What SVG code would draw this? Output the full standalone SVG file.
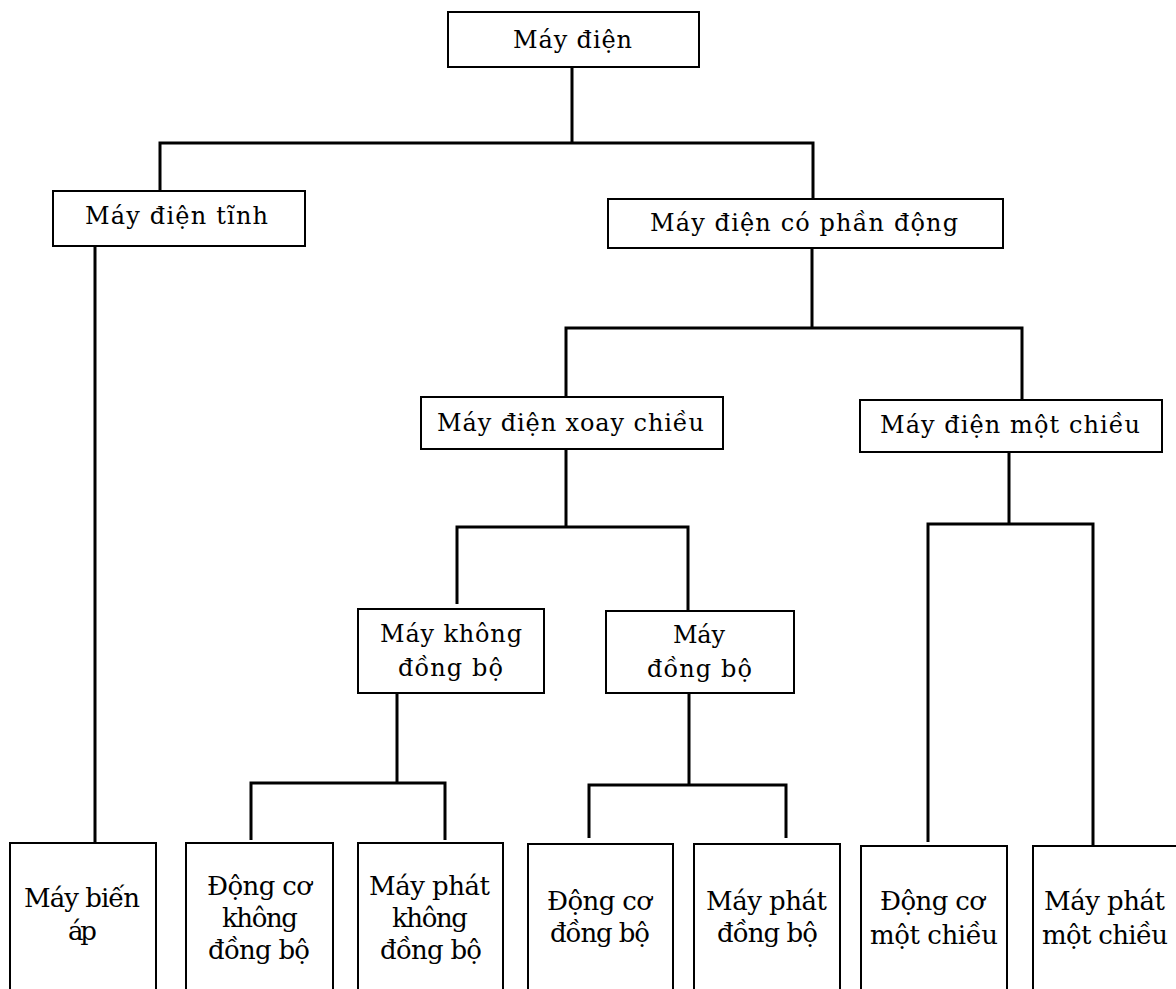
<svg xmlns="http://www.w3.org/2000/svg" width="1176" height="989" viewBox="0 0 1176 989">
  <style>
    .box { fill: #ffffff; stroke: #000000; stroke-width: 2; }
    .lnk { fill: none; stroke: #000000; stroke-width: 3; stroke-linecap: butt; stroke-linejoin: miter; }
    .t { font-family: "DejaVu Serif", "Liberation Serif", serif; font-size: 24px; fill: #000000; }
    .s { font-family: "DejaVu Serif", "Liberation Serif", serif; font-size: 26px; fill: #000000; }
  </style>
  <rect width="1176" height="989" fill="#ffffff"/>

  <!-- connectors -->
  <g id="connectors">
    <path class="lnk" d="M572,67 V143 M160,191 V143 H813 V199"/>
    <path class="lnk" d="M95,246 V843"/>
    <path class="lnk" d="M812,248 V328 M566,397 V328 H1022 V400"/>
    <path class="lnk" d="M566,449 V527 M457,604 V527 H688 V611"/>
    <path class="lnk" d="M397,693 V783 M251,840 V783 H445 V840"/>
    <path class="lnk" d="M689,693 V785 M589,838 V785 H786 V838"/>
    <path class="lnk" d="M1009,452 V524 M928,842 V524 H1093 V846"/>
  </g>

  <!-- level 0 -->
  <g id="may-dien">
    <rect class="box" x="448" y="12" width="251" height="55"/>
    <text class="t" x="513" y="48" textLength="119" lengthAdjust="spacing">Máy điện</text>
  </g>

  <!-- level 1 -->
  <g id="may-dien-tinh">
    <rect class="box" x="53" y="191" width="252" height="55"/>
    <text class="t" x="85" y="224" textLength="183" lengthAdjust="spacing">Máy điện tĩnh</text>
  </g>
  <g id="may-dien-co-phan-dong">
    <rect class="box" x="608" y="199" width="395" height="49"/>
    <text class="t" x="650" y="231" textLength="308" lengthAdjust="spacing">Máy điện có phần động</text>
  </g>

  <!-- level 2 -->
  <g id="may-dien-xoay-chieu">
    <rect class="box" x="421" y="397" width="302" height="52"/>
    <text class="t" x="437" y="431" textLength="267" lengthAdjust="spacing">Máy điện xoay chiều</text>
  </g>
  <g id="may-dien-mot-chieu">
    <rect class="box" x="860" y="400" width="302" height="52"/>
    <text class="t" x="880" y="433" textLength="260" lengthAdjust="spacing">Máy điện một chiều</text>
  </g>

  <!-- level 3 -->
  <g id="may-khong-dong-bo">
    <rect class="box" x="358" y="609" width="186" height="84"/>
    <text class="t" x="380" y="642" textLength="142" lengthAdjust="spacing">Máy không</text>
    <text class="t" x="398" y="676" textLength="105" lengthAdjust="spacing">đồng bộ</text>
  </g>
  <g id="may-dong-bo">
    <rect class="box" x="606" y="611" width="188" height="82"/>
    <text class="t" x="673" y="643" textLength="52" lengthAdjust="spacing">Máy</text>
    <text class="t" x="647" y="677" textLength="105" lengthAdjust="spacing">đồng bộ</text>
  </g>

  <!-- leaves -->
  <g id="may-bien-ap">
    <rect class="box" x="10" y="843" width="146" height="160"/>
    <text class="s" x="24" y="907" textLength="116" lengthAdjust="spacing">Máy biến</text>
    <text class="s" x="68" y="940" textLength="29" lengthAdjust="spacing">áp</text>
  </g>
  <g id="dong-co-khong-dong-bo">
    <rect class="box" x="186" y="843" width="147" height="160"/>
    <text class="s" x="207" y="895" textLength="105" lengthAdjust="spacing">Động cơ</text>
    <text class="s" x="222" y="927" textLength="76" lengthAdjust="spacing">không</text>
    <text class="s" x="208" y="959" textLength="102" lengthAdjust="spacing">đồng bộ</text>
  </g>
  <g id="may-phat-khong-dong-bo">
    <rect class="box" x="358" y="843" width="145" height="160"/>
    <text class="s" x="369" y="895" textLength="121" lengthAdjust="spacing">Máy phát</text>
    <text class="s" x="392" y="927" textLength="76" lengthAdjust="spacing">không</text>
    <text class="s" x="380" y="959" textLength="102" lengthAdjust="spacing">đồng bộ</text>
  </g>
  <g id="dong-co-dong-bo">
    <rect class="box" x="528" y="844" width="145" height="160"/>
    <text class="s" x="547" y="910" textLength="105" lengthAdjust="spacing">Động cơ</text>
    <text class="s" x="550" y="942" textLength="100" lengthAdjust="spacing">đồng bộ</text>
  </g>
  <g id="may-phat-dong-bo">
    <rect class="box" x="694" y="844" width="146" height="160"/>
    <text class="s" x="706" y="910" textLength="121" lengthAdjust="spacing">Máy phát</text>
    <text class="s" x="717" y="942" textLength="101" lengthAdjust="spacing">đồng bộ</text>
  </g>
  <g id="dong-co-mot-chieu">
    <rect class="box" x="861" y="846" width="146" height="160"/>
    <text class="s" x="880" y="910" textLength="105" lengthAdjust="spacing">Động cơ</text>
    <text class="s" x="870" y="944" textLength="128" lengthAdjust="spacing">một chiều</text>
  </g>
  <g id="may-phat-mot-chieu">
    <rect class="box" x="1033" y="846" width="150" height="160"/>
    <text class="s" x="1044" y="910" textLength="121" lengthAdjust="spacing">Máy phát</text>
    <text class="s" x="1042" y="944" textLength="126" lengthAdjust="spacing">một chiều</text>
  </g>
</svg>
